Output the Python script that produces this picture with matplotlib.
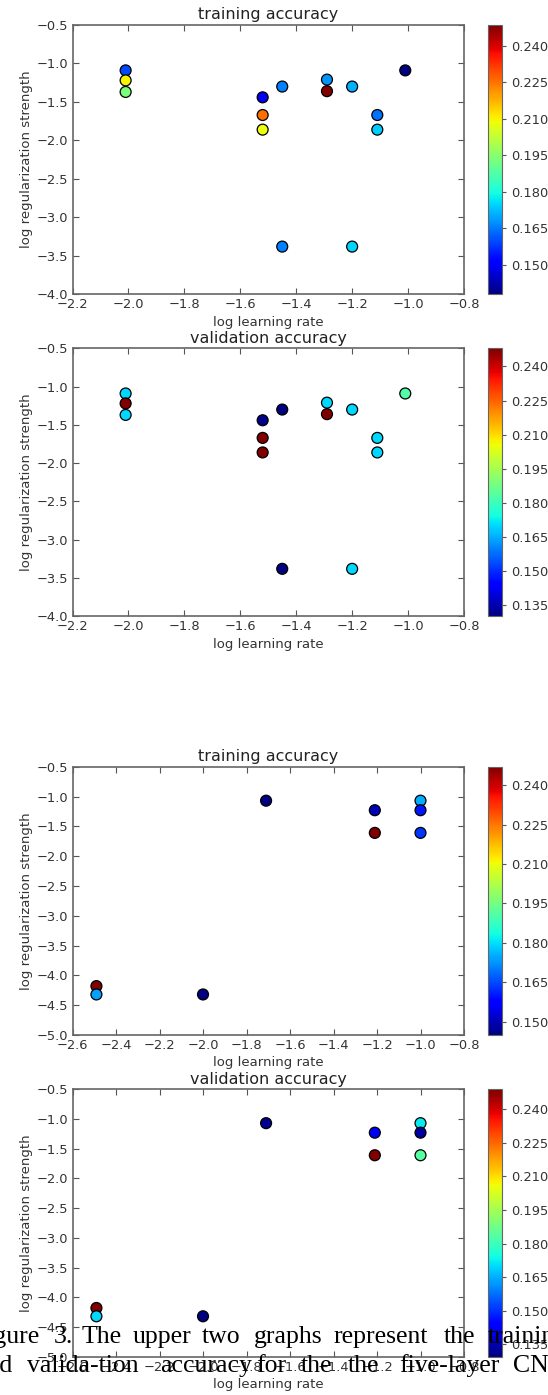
import numpy as np
import matplotlib.pyplot as plt

# grid search results (log learning rate, log reg strength, accuracy)
# upper pair of panels
lr_a = [-2.01, -2.01, -2.01, -1.52, -1.52, -1.52, -1.45, -1.45,
        -1.29, -1.29, -1.20, -1.20, -1.11, -1.11, -1.01]
reg_a = [-1.09, -1.22, -1.37, -1.44, -1.67, -1.86, -1.30, -3.38,
         -1.21, -1.36, -1.30, -3.38, -1.67, -1.86, -1.09]
train_a = [0.160, 0.210, 0.193, 0.149, 0.226, 0.208, 0.166, 0.166,
           0.168, 0.2485, 0.171, 0.175, 0.164, 0.174, 0.138]
val_a = [0.170, 0.248, 0.170, 0.131, 0.248, 0.248, 0.130, 0.130,
         0.170, 0.248, 0.170, 0.170, 0.170, 0.170, 0.183]

# lower pair of panels
lr_b = [-2.49, -2.49, -2.00, -1.71, -1.21, -1.21, -1.00, -1.00, -1.00]
reg_b = [-4.18, -4.32, -4.32, -1.07, -1.23, -1.61, -1.07, -1.23, -1.61]
train_b = [0.247, 0.174, 0.145, 0.145, 0.150, 0.247, 0.175, 0.160, 0.163]
val_b = [0.2488, 0.170, 0.1295, 0.131, 0.142, 0.2488, 0.172, 0.133, 0.184]

ticks_a = [0.150, 0.165, 0.180, 0.195, 0.210, 0.225, 0.240]
ticks_b = [0.135, 0.150, 0.165, 0.180, 0.195, 0.210, 0.225, 0.240]

W, H = 548, 1395
fig = plt.figure(figsize=(W / 100, H / 100), dpi=100, facecolor='white')

txt = '#333333'


def panel(top, bottom, x, y, c, title, xlim, ylim, cticks):
    left, right = 72.5, 464
    ax = fig.add_axes([left / W, 1 - bottom / H, (right - left) / W, (bottom - top) / H])
    sc = ax.scatter(x, y, c=c, cmap='jet', s=62, edgecolors='black', linewidths=0.9, zorder=3)
    ax.set_xlim(*xlim)
    ax.set_ylim(*ylim)
    ax.set_xticks(np.round(np.arange(xlim[0], xlim[1] + 0.01, 0.2), 1))
    ax.set_yticks(np.round(np.arange(ylim[0], ylim[1] + 0.01, 0.5), 1))
    ax.tick_params(direction='in', top=True, right=True, length=4.5, width=0.8,
                   color='#555555', labelsize=9.4, labelcolor=txt, pad=3)
    for s in ax.spines.values():
        s.set_color('#666666')
        s.set_linewidth(1.2)
    ax.set_title(title, fontsize=11.5, color='#222222', pad=4)
    ax.set_xlabel('log learning rate', fontsize=9.5, color=txt, labelpad=3)
    ax.set_ylabel('log regularization strength', fontsize=9.5, color=txt, labelpad=3)
    cax = fig.add_axes([488 / W, 1 - bottom / H, 14 / W, (bottom - top) / H])
    cb = fig.colorbar(sc, cax=cax, ticks=cticks, format='%.3f')
    cb.ax.tick_params(labelsize=9.4, labelcolor=txt, length=3, color='#555555')
    cb.outline.set_edgecolor('#666666')
    return ax


panel(25, 294.3, lr_a, reg_a, train_a, 'training accuracy', (-2.2, -0.8), (-4.0, -0.5), ticks_a)
panel(348.3, 616.3, lr_a, reg_a, val_a, 'validation accuracy', (-2.2, -0.8), (-4.0, -0.5), ticks_b)
panel(766.7, 1035, lr_b, reg_b, train_b, 'training accuracy', (-2.6, -0.8), (-5.0, -0.5), ticks_a)
panel(1089.3, 1356.7, lr_b, reg_b, val_b, 'validation accuracy', (-2.6, -0.8), (-5.0, -0.5), ticks_b)

# caption lines from the page, justified and cut at the image edges
line1 = [('Figure', 40, 'right'), ('3.', 54, 'left'), ('The', 82, 'left'),
         ('upper', 133, 'left'), ('two', 202, 'left'), ('graphs', 254, 'left'),
         ('represent', 334, 'left'), ('the', 444, 'left'), ('training', 488, 'left')]
line2 = [('and', 12, 'right'), ('valida-tion', 27, 'left'), ('accuracy', 160, 'left'),
         ('for', 256, 'left'), ('the', 301, 'left'), ('the', 348, 'left'),
         ('five-layer', 399, 'left'), ('CNN', 513, 'left')]

for words, base in [(line1, 1343), (line2, 1372)]:
    for w, xp, ha in words:
        fig.text(xp / W, 1 - base / H, w, ha=ha, va='baseline', fontsize=18.5,
                 family='Liberation Serif', color='black', zorder=10)

fig.savefig('out.png', dpi=100, facecolor='white')
